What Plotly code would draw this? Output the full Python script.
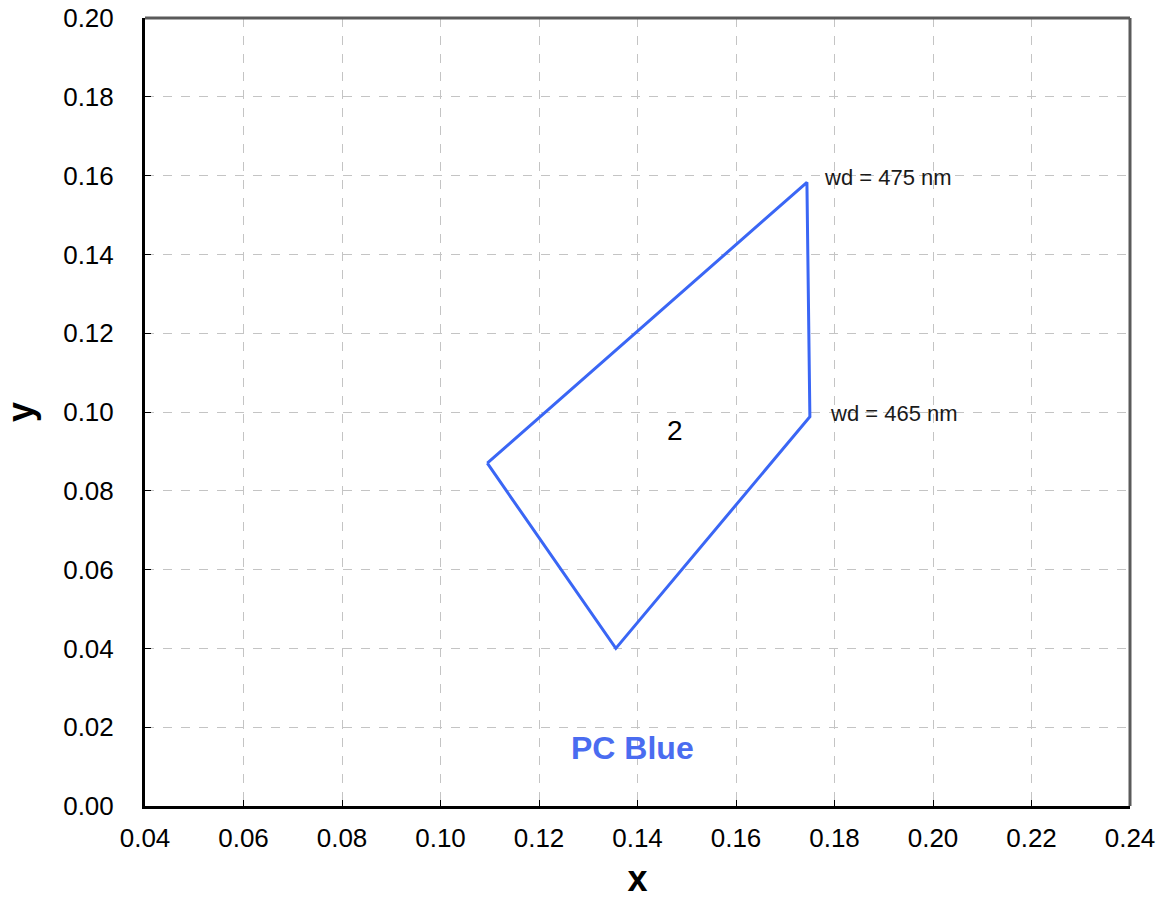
import plotly.graph_objects as go

# Data (CIE x, y chromaticity of PC Blue region)
region_x = [0.1095, 0.1744, 0.1750, 0.1356, 0.1095]
region_y = [0.0870, 0.1583, 0.0988, 0.0400, 0.0870]

label_texts = ["wd = 475 nm", "wd = 465 nm"]
label_x = [0.1775, 0.1787]
label_y = [0.1594, 0.0997]

region_name = "2"
region_name_xy = (0.1476, 0.0954)
series_title = "PC Blue"
series_title_xy = (0.1389, 0.0147)

x_ticks = [0.04, 0.06, 0.08, 0.10, 0.12, 0.14, 0.16, 0.18, 0.20, 0.22, 0.24]
y_ticks = [0.00, 0.02, 0.04, 0.06, 0.08, 0.10, 0.12, 0.14, 0.16, 0.18, 0.20]

FONT = "Liberation Sans, Arial, sans-serif"
BLUE = "#3a66f5"

fig = go.Figure()
fig.add_trace(go.Scatter(
    x=region_x, y=region_y, mode="lines",
    line=dict(color=BLUE, width=3), showlegend=False, hoverinfo="skip"))

for t, lx, ly in zip(label_texts, label_x, label_y):
    fig.add_annotation(x=lx, y=ly, text=t, showarrow=False, xanchor="left",
                       yanchor="middle", font=dict(family=FONT, size=22, color="#1a1a1a"))

fig.add_annotation(x=region_name_xy[0], y=region_name_xy[1], text=region_name,
                   showarrow=False, font=dict(family=FONT, size=28, color="black"))
fig.add_annotation(x=series_title_xy[0], y=series_title_xy[1], text="<b>" + series_title + "</b>",
                   showarrow=False, font=dict(family=FONT, size=32, color="#4a6cf0"))

axis_common = dict(
    showgrid=True, gridcolor="#c4c4c4", griddash="dash", gridwidth=1,
    showline=True, linecolor="black", linewidth=3, mirror=False,
    ticks="inside", ticklen=6, tickcolor="black", tickwidth=1,
    zeroline=False, tickfont=dict(family=FONT, size=26, color="black"),
    automargin=False,
)

fig.update_xaxes(range=[0.04, 0.24], tickvals=x_ticks,
                 ticktext=[f"{v:.2f}" for v in x_ticks], ticklabelstandoff=7,
                 title=dict(text="<b>x</b>", font=dict(family=FONT, size=36, color="black"), standoff=16),
                 **axis_common)
fig.update_yaxes(range=[0.0, 0.20], tickvals=y_ticks,
                 ticktext=[f"{v:.2f}" for v in y_ticks], ticklabelstandoff=23,
                 title=dict(text="<b>y</b>", font=dict(family=FONT, size=36, color="black"), standoff=19),
                 **axis_common)

# Top and right frame lines (gray)
fig.add_shape(type="line", xref="paper", yref="paper", x0=0, x1=1, y0=1, y1=1,
              line=dict(color="#5a5a5a", width=3), layer="above")
fig.add_shape(type="line", xref="paper", yref="paper", x0=1, x1=1, y0=0, y1=1,
              line=dict(color="#5a5a5a", width=3), layer="above")

fig.update_layout(
    width=1165, height=899,
    margin=dict(l=145, r=35, t=18, b=93),
    paper_bgcolor="white", plot_bgcolor="white",
    font=dict(family=FONT),
)

fig.write_html("out.html", config={"displayModeBar": False})

with open("out.html", "r", encoding="utf-8") as f:
    html = f.read()
html = html.replace("<head>", "<head><style>html,body{margin:0;padding:0;overflow:hidden;}</style>", 1)
with open("out.html", "w", encoding="utf-8") as f:
    f.write(html)
